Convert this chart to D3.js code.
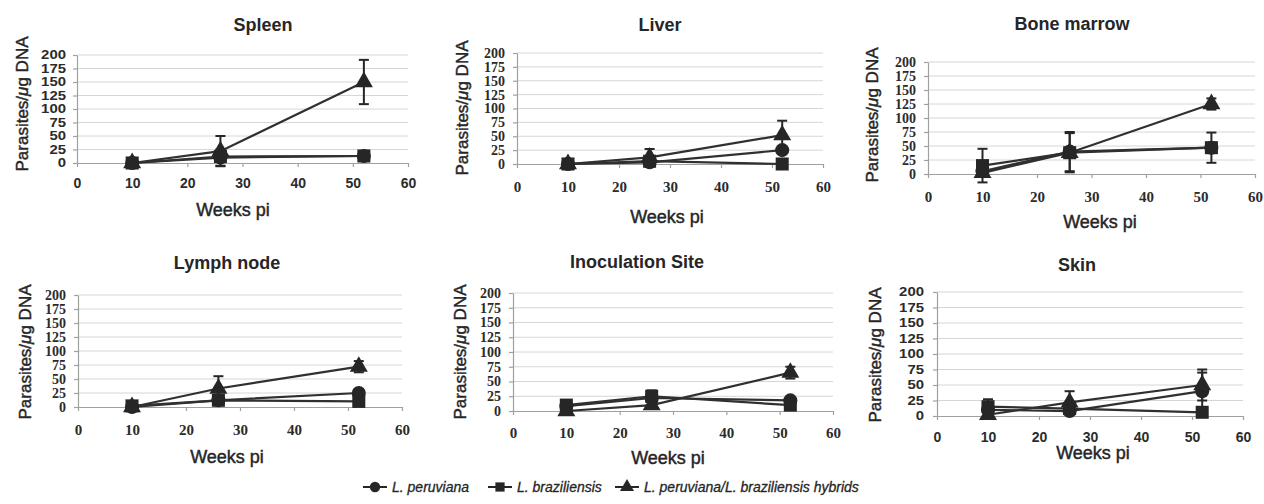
<!DOCTYPE html>
<html>
<head>
<meta charset="utf-8">
<script src="https://d3js.org/d3.v7.min.js"></script>
<style>
  body { margin: 0; background: #fff; }
  svg { display: block; }
  .grid line { stroke: #d6d6d6; stroke-width: 1; }
  .axis path, .axis line { stroke: #a0a0a0; stroke-width: 1.2; }
  .axis text { fill: #2b2b2b; font-weight: bold; }
  .title { font: bold 18px "Liberation Sans", Arial, sans-serif; fill: #262626; }
  .xlab, .ylab { font: 18px "Liberation Sans", Arial, sans-serif; fill: #262626; stroke: #262626; stroke-width: 0.45px; }
  .ylab { font-size: 17px; }
  .legend text { font: italic 14px "Liberation Sans", Arial, sans-serif; fill: #262626; stroke: #262626; stroke-width: 0.3px; }
</style>
</head>
<body>
<script>
// data (weeks post infection, parasites per ug DNA)
var tissues = ["Spleen", "Liver", "Bone marrow", "Lymph node", "Inoculation Site", "Skin"];
var seriesNames = ["L. peruviana", "L. braziliensis", "L. peruviana/L. braziliensis hybrids"];
var weeks = [10, 26, 52];
var xTicks = [0, 10, 20, 30, 40, 50, 60];
var yTicks = [0, 25, 50, 75, 100, 125, 150, 175, 200];

// one row per tissue, values at weeks 10, 26, 52
var peruviana    = [[0, 10, 13], [0, 3, 25], [5, 40, 47], [0, 12, 25], [8, 22, 18], [10, 8, 40]];
var braziliensis = [[0, 12, 13], [0, 5, 0], [15, 38, 47], [2, 12, 10], [10, 25, 10], [15, 12, 6]];
var hybrids      = [[0, 22, 150], [0, 12, 52], [2, 38, 125], [0, 33, 72], [0, 10, 65], [2, 22, 50]];

// error bars (+/-)
var peruvianaErr    = [[0, 15, 0], [0, 0, 0], [0, 35, 0], [0, 0, 0], [0, 0, 0], [0, 0, 30]];
var braziliensisErr = [[0, 0, 0], [0, 0, 0], [30, 35, 27], [0, 0, 0], [0, 10, 0], [12, 0, 0]];
var hybridsErr      = [[0, 28, 41], [0, 15, 26], [0, 0, 10], [0, 22, 10], [0, 0, 10], [0, 18, 25]];

// panel placement
var layout = [
  {x0: 77,  x1: 408,  yT: 55,  yB: 163, tx: 263,  ty: 25,  lx: 233,  ly: 210, yx: 22,  yy: 104, serif: false, tdy: 20, pad: 7},
  {x0: 517, x1: 823,  yT: 53,  yB: 164, tx: 660,  ty: 25,  lx: 667,  ly: 217, yx: 462, yy: 108, serif: true,  tdy: 23, pad: 8},
  {x0: 928, x1: 1255, yT: 62,  yB: 174, tx: 1072, ty: 24,  lx: 1100, ly: 222, yx: 872, yy: 115, serif: true,  tdy: 23, pad: 8},
  {x0: 78,  x1: 402,  yT: 295, yB: 407, tx: 227,  ty: 263, lx: 227,  ly: 457, yx: 25,  yy: 352, serif: true,  tdy: 23, pad: 8},
  {x0: 513, x1: 833,  yT: 293, yB: 411, tx: 637,  ty: 262, lx: 668,  ly: 458, yx: 460, yy: 352, serif: true,  tdy: 22, pad: 8},
  {x0: 937, x1: 1243, yT: 292, yB: 416, tx: 1077, ty: 265, lx: 1093, ly: 453, yx: 875, yy: 355, serif: false, tdy: 21, pad: 9}
];

var series = [
  {name: seriesNames[0], vals: peruviana,    errs: peruvianaErr,    sym: d3.symbolCircle,   size: 155},
  {name: seriesNames[2], vals: hybrids,      errs: hybridsErr,      sym: d3.symbolTriangle, size: 140},
  {name: seriesNames[1], vals: braziliensis, errs: braziliensisErr, sym: d3.symbolSquare,   size: 170}
];
var ink = "#262626";

var svg = d3.select("body").append("svg")
    .attr("width", 1264)
    .attr("height", 504);

tissues.forEach(function(t, i) {
  var L = layout[i];
  var x = d3.scaleLinear().domain([0, 60]).range([L.x0, L.x1]);
  var y = d3.scaleLinear().domain([0, 200]).range([L.yB, L.yT]);
  var g = svg.append("g");
  var tickFont = L.serif ? "Liberation Serif" : "Liberation Sans";

  // gridlines
  g.append("g").attr("class", "grid")
    .selectAll("line")
    .data(yTicks.slice(1))
    .enter().append("line")
      .attr("x1", L.x0).attr("x2", L.x1)
      .attr("y1", function(d) { return y(d); })
      .attr("y2", function(d) { return y(d); });

  // x axis
  var gx = g.append("g").attr("class", "axis")
    .attr("transform", "translate(0," + L.yB + ")")
    .call(d3.axisBottom(x).tickValues(xTicks).tickSize(4).tickSizeOuter(0))
    .attr("font-family", tickFont)
    .attr("font-size", L.serif ? 15 : 14);
  gx.selectAll("text")
    .attr("y", L.tdy).attr("dy", "0.35em");

  // y axis
  var gy = g.append("g").attr("class", "axis")
    .attr("transform", "translate(" + L.x0 + ",0)")
    .call(d3.axisLeft(y).tickValues(yTicks).tickSize(4).tickSizeOuter(0).tickPadding(L.pad))
    .attr("font-family", tickFont)
    .attr("font-size", L.serif ? 14 : 12);
  if (!L.serif) {
    gy.selectAll("text")
      .attr("textLength", function(d) { return String(d).length * 8.3; })
      .attr("lengthAdjust", "spacingAndGlyphs");
  }

  // titles
  g.append("text").attr("class", "title")
    .attr("x", L.tx).attr("y", L.ty).attr("dy", "0.35em")
    .attr("text-anchor", "middle").text(t);
  g.append("text").attr("class", "xlab")
    .attr("x", L.lx).attr("y", L.ly).attr("dy", "0.35em")
    .attr("text-anchor", "middle").text("Weeks pi");
  var yl = g.append("text").attr("class", "ylab")
    .attr("transform", "translate(" + L.yx + "," + L.yy + ") rotate(-90)")
    .attr("dy", "0.35em")
    .attr("text-anchor", "middle");
  yl.append("tspan").text("Parasites/");
  yl.append("tspan").style("font-style", "italic").text("\u03bc");
  yl.append("tspan").text("g DNA");

  var line = d3.line()
    .x(function(d) { return x(d[0]); })
    .y(function(d) { return y(d[1]); });

  // lines first
  series.forEach(function(s) {
    var pts = weeks.map(function(w, k) { return [w, s.vals[i][k]]; });
    g.append("path")
      .attr("d", line(pts))
      .attr("fill", "none")
      .attr("stroke", "#303030")
      .attr("stroke-width", 2.2);
  });

  // error bars and markers
  series.forEach(function(s) {
    weeks.forEach(function(w, k) {
      var v = s.vals[i][k], e = s.errs[i][k];
      if (e > 0) {
        var eb = g.append("g").attr("stroke", ink).attr("stroke-width", 2);
        eb.append("line")
          .attr("x1", x(w)).attr("x2", x(w))
          .attr("y1", y(v - e)).attr("y2", y(v + e));
        [v - e, v + e].forEach(function(c) {
          eb.append("line")
            .attr("x1", x(w) - 5).attr("x2", x(w) + 5)
            .attr("y1", y(c)).attr("y2", y(c));
        });
      }
    });
    g.selectAll(null)
      .data(weeks.map(function(w, k) { return [w, s.vals[i][k]]; }))
      .enter().append("path")
        .attr("d", d3.symbol().type(s.sym).size(s.size))
        .attr("transform", function(d) { return "translate(" + x(d[0]) + "," + y(d[1]) + ")"; })
        .attr("fill", ink);
  });
});

// legend
var legendX = [363, 488, 615];
var legendSym = [d3.symbolCircle, d3.symbolSquare, d3.symbolTriangle];
var legend = svg.append("g").attr("class", "legend")
  .selectAll("g")
  .data(seriesNames)
  .enter().append("g")
    .attr("transform", function(d, i) { return "translate(" + legendX[i] + ",487)"; });

legend.append("line")
  .attr("x1", 0).attr("x2", 24)
  .attr("stroke", ink).attr("stroke-width", 2);
legend.append("path")
  .attr("d", function(d, i) { return d3.symbol().type(legendSym[i]).size(85)(); })
  .attr("transform", "translate(12,0)")
  .attr("fill", ink);
legend.append("text")
  .attr("x", 29).attr("dy", "0.35em")
  .text(function(d) { return d; });
</script>
</body>
</html>
